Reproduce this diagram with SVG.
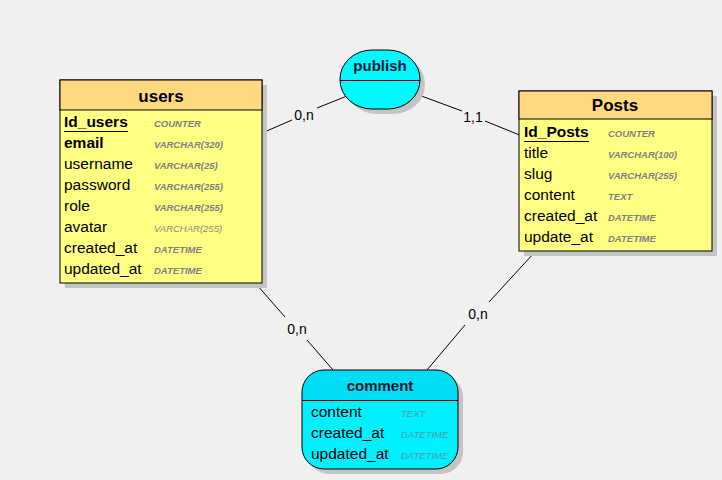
<svg xmlns="http://www.w3.org/2000/svg" width="722" height="480" viewBox="0 0 722 480">
<style>
.bg{fill:#F0F0F0}
.shadow{fill:#C4C4C4}
.hdr{fill:#FFD980;stroke:#000;stroke-width:1}
.body{fill:#FFFF84;stroke:#000;stroke-width:1}
.title{font-family:"Liberation Sans",Arial,sans-serif;font-weight:bold;font-size:17px;fill:#000;text-anchor:middle}
.rtitle{font-family:"Liberation Sans",Arial,sans-serif;font-weight:bold;font-size:15px;fill:#001a33;text-anchor:middle}
.attr{font-family:"Liberation Sans",Arial,sans-serif;font-size:15.5px;fill:#000}
.key{font-weight:bold}
.type{font-family:"Liberation Sans",Arial,sans-serif;font-size:9.5px;font-style:italic;font-weight:bold;fill:#808080}
.typel{font-family:"Liberation Sans",Arial,sans-serif;font-size:9.5px;font-style:italic;fill:#8a8a8a}
.ctype{font-family:"Liberation Sans",Arial,sans-serif;font-size:9.5px;font-style:italic;fill:#4f9aad}
.conn{stroke:#000;stroke-width:1;fill:none}
.card{font-family:"Liberation Sans",Arial,sans-serif;font-size:14px;fill:#000;text-anchor:middle}
.ul{stroke:#000;stroke-width:1.2}
</style>
<rect class="bg" x="0" y="0" width="722" height="480"/>

<g id="connectors">
  <line class="conn" x1="262" y1="133" x2="292" y2="120"/>
  <line class="conn" x1="317" y1="108" x2="347" y2="96"/>
  <text class="card" x="304" y="120">0,n</text>
  <line class="conn" x1="416" y1="94" x2="462" y2="111"/>
  <line class="conn" x1="485" y1="121" x2="522" y2="136"/>
  <text class="card" x="473" y="122">1,1</text>
  <line class="conn" x1="257" y1="285" x2="285" y2="317"/>
  <line class="conn" x1="307" y1="340" x2="333" y2="370"/>
  <text class="card" x="297" y="334">0,n</text>
  <line class="conn" x1="534" y1="253" x2="489" y2="302"/>
  <line class="conn" x1="465" y1="325" x2="427" y2="370"/>
  <text class="card" x="478" y="319">0,n</text>
</g>

<g id="users">
  <rect class="shadow" x="65" y="85" width="202" height="203"/>
  <rect class="body" x="60" y="80" width="202" height="203"/>
  <rect class="hdr" x="60" y="80" width="202" height="30"/>
  <text class="title" x="161" y="102">users</text>
  <text class="attr key" x="64" y="127">Id_users</text>
  <line class="ul" x1="64" y1="131.5" x2="128" y2="131.5"/>
  <text class="type" x="154" y="127">COUNTER</text>
  <text class="attr key" x="64" y="148">email</text>
  <text class="type" x="154" y="148">VARCHAR(320)</text>
  <text class="attr" x="64" y="169">username</text>
  <text class="type" x="154" y="169">VARCHAR(25)</text>
  <text class="attr" x="64" y="190">password</text>
  <text class="type" x="154" y="190">VARCHAR(255)</text>
  <text class="attr" x="64" y="211">role</text>
  <text class="type" x="154" y="211">VARCHAR(255)</text>
  <text class="attr" x="64" y="232">avatar</text>
  <text class="typel" x="154" y="232">VARCHAR(255)</text>
  <text class="attr" x="64" y="253">created_at</text>
  <text class="type" x="154" y="253">DATETIME</text>
  <text class="attr" x="64" y="274">updated_at</text>
  <text class="type" x="154" y="274">DATETIME</text>
</g>

<g id="Posts">
  <rect class="shadow" x="524" y="96" width="193" height="160"/>
  <rect class="body" x="519" y="91" width="193" height="160"/>
  <rect class="hdr" x="519" y="91" width="193" height="28"/>
  <text class="title" x="615" y="111">Posts</text>
  <text class="attr key" x="524" y="137">Id_Posts</text>
  <line class="ul" x1="524" y1="141.5" x2="589" y2="141.5"/>
  <text class="type" x="608" y="137">COUNTER</text>
  <text class="attr" x="524" y="158">title</text>
  <text class="type" x="608" y="158">VARCHAR(100)</text>
  <text class="attr" x="524" y="179">slug</text>
  <text class="type" x="608" y="179">VARCHAR(255)</text>
  <text class="attr" x="524" y="200">content</text>
  <text class="type" x="608" y="200">TEXT</text>
  <text class="attr" x="524" y="221">created_at</text>
  <text class="type" x="608" y="221">DATETIME</text>
  <text class="attr" x="524" y="242">update_at</text>
  <text class="type" x="608" y="242">DATETIME</text>
</g>

<g id="publish">
  <rect class="shadow" x="345" y="55" width="80" height="59" rx="32" ry="29"/>
  <rect x="340" y="50" width="80" height="59" rx="32" ry="29" fill="#00F8FF" stroke="#000" stroke-width="1"/>
  <line x1="340" y1="80.5" x2="420" y2="80.5" stroke="#000" stroke-width="1"/>
  <text class="rtitle" x="380" y="71">publish</text>
</g>

<g id="comment">
  <rect class="shadow" x="307" y="375" width="156" height="99" rx="22" ry="22"/>
  <path d="M302,400.5 V392 A22,22 0 0 1 324,370 H436 A22,22 0 0 1 458,392 V400.5 Z" fill="#00DDF5"/>
  <path d="M302,400.5 H458 V447 A22,22 0 0 1 436,469 H324 A22,22 0 0 1 302,447 Z" fill="#00F0FF"/>
  <rect x="302" y="370" width="156" height="99" rx="22" ry="22" fill="none" stroke="#000" stroke-width="1"/>
  <line x1="302" y1="400.5" x2="458" y2="400.5" stroke="#000" stroke-width="1"/>
  <text class="rtitle" x="380" y="391">comment</text>
  <text class="attr" x="311" y="417">content</text>
  <text class="ctype" x="401" y="417">TEXT</text>
  <text class="attr" x="311" y="438">created_at</text>
  <text class="ctype" x="401" y="438">DATETIME</text>
  <text class="attr" x="311" y="459">updated_at</text>
  <text class="ctype" x="401" y="459">DATETIME</text>
</g>
</svg>
